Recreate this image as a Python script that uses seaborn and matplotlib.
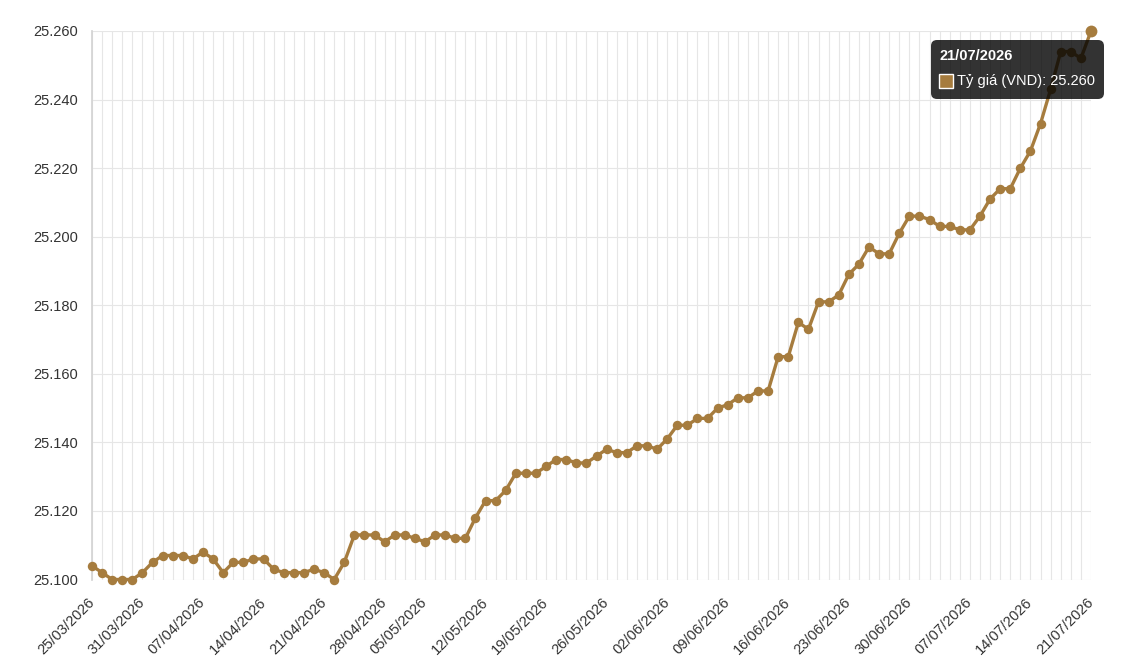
import numpy as np
import pandas as pd
import seaborn as sns
import matplotlib.pyplot as plt
from matplotlib.patches import FancyBboxPatch, Rectangle
from matplotlib.ticker import FuncFormatter
from matplotlib.transforms import IdentityTransform

# trading days: Mon-Sat, no quote on 30/04 and 01/05
days = pd.bdate_range('2026-03-25', '2026-07-21', freq='C',
                      weekmask='Mon Tue Wed Thu Fri Sat',
                      holidays=['2026-04-30', '2026-05-01'])
dates = [d.strftime('%d/%m/%Y') for d in days]

# exchange rate (VND)
rate = [25104, 25102, 25100, 25100, 25100, 25102, 25105, 25107, 25107, 25107,
        25106, 25108, 25106, 25102, 25105, 25105, 25106, 25106, 25103, 25102,
        25102, 25102, 25103, 25102, 25100, 25105, 25113, 25113, 25113, 25111,
        25113, 25113, 25112, 25111, 25113, 25113, 25112, 25112, 25118, 25123,
        25123, 25126, 25131, 25131, 25131, 25133, 25135, 25135, 25134, 25134,
        25136, 25138, 25137, 25137, 25139, 25139, 25138, 25141, 25145, 25145,
        25147, 25147, 25150, 25151, 25153, 25153, 25155, 25155, 25165, 25165,
        25175, 25173, 25181, 25181, 25183, 25189, 25192, 25197, 25195, 25195,
        25201, 25206, 25206, 25205, 25203, 25203, 25202, 25202, 25206, 25211,
        25214, 25214, 25220, 25225, 25233, 25243, 25254, 25254, 25252, 25260]

shown_dates = ['25/03/2026', '31/03/2026', '07/04/2026', '14/04/2026', '21/04/2026',
               '28/04/2026', '05/05/2026', '12/05/2026', '19/05/2026', '26/05/2026',
               '02/06/2026', '09/06/2026', '16/06/2026', '23/06/2026', '30/06/2026',
               '07/07/2026', '14/07/2026', '21/07/2026']
y_ticks = [25100, 25120, 25140, 25160, 25180, 25200, 25220, 25240, 25260]
series_name = 'Tỷ giá (VND)'

df = pd.DataFrame({'idx': range(len(rate)), 'date': dates[:len(rate)], 'rate': rate})

line_color = '#a67c3e'
grid_color = '#e6e6e6'
text_color = '#333333'

sns.set_theme(style='whitegrid', rc={'grid.color': grid_color, 'axes.edgecolor': '#d4d4d4'})
plt.rcParams['font.family'] = ['Liberation Sans', 'DejaVu Sans']

W, H = 1130, 671
fig = plt.figure(figsize=(W / 100, H / 100), dpi=100)
ax = fig.add_axes([92 / W, 1 - 579.5 / H, (1091 - 92) / W, (579.5 - 31) / H])

sns.lineplot(data=df, x='idx', y='rate', color=line_color, linewidth=2.4,
             marker='o', markersize=6.8, markeredgewidth=0, ax=ax, zorder=4)
# hovered point
ax.plot(df['idx'].iloc[-1], df['rate'].iloc[-1], 'o', color=line_color,
        markersize=8.5, markeredgewidth=0, zorder=5)
for l in ax.lines:
    l.set_clip_on(False)

ax.set_xlim(0, len(rate) - 1)
ax.set_ylim(y_ticks[0], y_ticks[-1])
ax.set_xticks(df['idx'])
ax.set_xticklabels([d if d in shown_dates else '' for d in df['date']],
                   rotation=45, ha='right', va='center', rotation_mode='anchor')
ax.set_yticks(y_ticks)
ax.yaxis.set_major_formatter(FuncFormatter(lambda v, p: f'{v:,.0f}'.replace(',', '.')))
ax.tick_params(axis='both', length=7, width=0.8, color=grid_color, labelsize=10.5,
               labelcolor=text_color)
ax.tick_params(axis='x', pad=8)
ax.tick_params(axis='y', pad=3)
ax.grid(True, color=grid_color, linewidth=0.8)
ax.set_xlabel('')
ax.set_ylabel('')
for s in ['top', 'right', 'bottom']:
    ax.spines[s].set_visible(False)
ax.spines['left'].set_color('#d4d4d4')
ax.spines['left'].set_zorder(1)

# tooltip (semi-transparent like the chart library draws it)
ident = IdentityTransform()
box = FancyBboxPatch((931, H - 99), 173, 59, boxstyle='round,pad=0,rounding_size=6',
                     facecolor=(0, 0, 0, 0.8), edgecolor='none', transform=ident, zorder=10)
fig.add_artist(box)
fig.text(939, H - 56, dates[len(rate) - 1], transform=ident, color='white',
         fontsize=10.5, fontweight='bold', va='center', ha='left', zorder=11)
sq = Rectangle((939, H - 88), 14, 14, facecolor=line_color, edgecolor='white',
               linewidth=1, transform=ident, zorder=11)
fig.add_artist(sq)
fig.text(957, H - 81, f"{series_name}: {rate[-1]:,}".replace(',', '.'), transform=ident,
         color='white', fontsize=10.5, va='center', ha='left', zorder=11)

fig.savefig('out.png', dpi=100)
